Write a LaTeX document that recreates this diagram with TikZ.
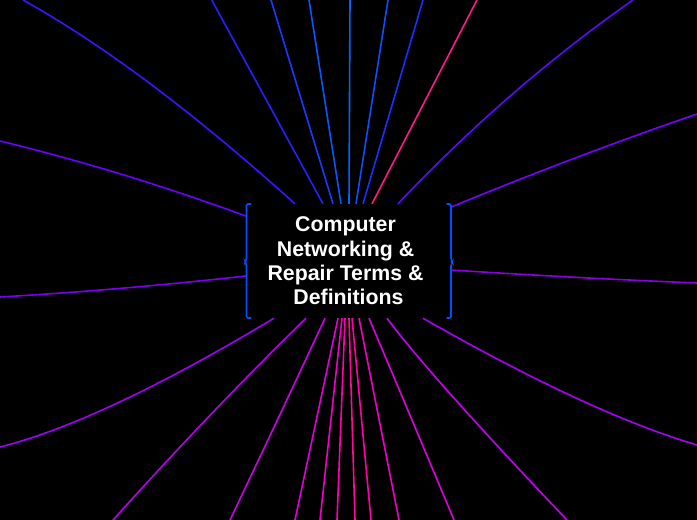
\documentclass[tikz,border=0pt]{standalone}
\usepackage{fontspec}
\setmainfont{Liberation Sans}
\usetikzlibrary{calc}
\definecolor{brk}{HTML}{0050FF}
\definecolor{ca}{HTML}{3814FF}
\definecolor{cb}{HTML}{2222FF}
\definecolor{cc}{HTML}{1A3AFF}
\definecolor{cd}{HTML}{0A55FF}
\definecolor{ce}{HTML}{0064FF}
\definecolor{cf}{HTML}{0F4EFF}
\definecolor{cg}{HTML}{1E2EFF}
\definecolor{ch}{HTML}{FF1A8C}
\definecolor{ci}{HTML}{5A0AFF}
\definecolor{lu}{HTML}{6A00FF}
\definecolor{ru}{HTML}{7800FF}
\definecolor{lm}{HTML}{7A00F0}
\definecolor{rm}{HTML}{8A00E0}
\definecolor{ba}{HTML}{A000F5}
\definecolor{bb}{HTML}{B400EE}
\definecolor{bc}{HTML}{CC00E8}
\definecolor{bd}{HTML}{E000DA}
\definecolor{be}{HTML}{F000C8}
\definecolor{bf}{HTML}{FF00B0}
\definecolor{bg}{HTML}{FF0A98}
\definecolor{bh}{HTML}{FF00A6}
\definecolor{bi}{HTML}{F000C4}
\definecolor{bj}{HTML}{DC00DC}
\definecolor{bk}{HTML}{C400EE}
\definecolor{bl}{HTML}{A800F5}
\begin{document}
\begin{tikzpicture}[x=1pt,y=-1pt,
  conn/.style={line width=1.6pt},
  brack/.style={draw=brk,line width=1.6pt,rounded corners=1.5pt},
  central/.style={inner sep=0pt,minimum width=205pt,minimum height=114pt,
    text=white,align=center,font=\fontsize{21.3}{24.3}\selectfont\bfseries}]
\fill[black] (0,0) rectangle (697,520);
\useasboundingbox (0,0) rectangle (697,520);

\node[central] (c) at (348.5,261)
  {Computer\rule{0.28em}{0pt}\\Networking \&\rule{0.28em}{0pt}\\Repair Terms \&\rule{0.28em}{0pt}\\Definitions};

% start points on the central node
\coordinate (s1) at ([xshift=-53.5pt]c.north);
\coordinate (s9) at ([xshift=49.5pt]c.north);
\coordinate (sl1) at ([yshift=45pt]c.west);
\coordinate (sl2) at ([yshift=-15pt]c.west);
\coordinate (sr1) at ([yshift=54pt]c.east);
\coordinate (sr2) at ([yshift=-9pt]c.east);
\coordinate (sb1) at ([xshift=-74.5pt]c.south);
\coordinate (sb2) at ([xshift=-42.5pt]c.south);
\coordinate (sb3) at ([xshift=-23.5pt]c.south);
\coordinate (sb10) at ([xshift=20.5pt]c.south);
\coordinate (sb11) at ([xshift=38.5pt]c.south);
\coordinate (sb12) at ([xshift=74.5pt]c.south);

% outer ends
\coordinate (t1) at (23,0);
\coordinate (t2) at (211.7,0);
\coordinate (t3) at (271,0);
\coordinate (t4) at (309,0);
\coordinate (t5) at (350,0);
\coordinate (t6) at (388,0);
\coordinate (t7) at (423,0);
\coordinate (t8) at (477,0);
\coordinate (t9) at (633,0);
\coordinate (l1) at (0,141);
\coordinate (l2) at (0,297);
\coordinate (r1) at (697,114);
\coordinate (r2) at (697,283);
\coordinate (b1) at (0,447);
\coordinate (b2) at (113,520);
\coordinate (b3) at (230,520);
\coordinate (b4) at (295,520);
\coordinate (b5) at (320,520);
\coordinate (b6) at (337,520);
\coordinate (b7) at (355,520);
\coordinate (b8) at (371,520);
\coordinate (b9) at (399,520);
\coordinate (b10) at (454,520);
\coordinate (b11) at (567,520);
\coordinate (b12) at (697,445);

% quadratic control points
\coordinate (q1) at (142,66);
\coordinate (q9) at (508,87.5);
\coordinate (ql1) at (120,170);
\coordinate (ql2) at (120,290);
\coordinate (qr1) at (575,156);
\coordinate (qr2) at (575,278);
\coordinate (qb1) at (103,421);
\coordinate (qb2) at (212,410);
\coordinate (qb3) at (280,415);
\coordinate (qb10) at (410,415);
\coordinate (qb11) at (430,376);
\coordinate (qb12) at (589,413);

% top
\draw[conn,draw=ca] (s1) .. controls ($(s1)!0.6667!(q1)$) and ($(t1)!0.6667!(q1)$) .. (t1);
\draw[conn,draw=cb] ([xshift=-25.5pt]c.north) -- (t2);
\draw[conn,draw=cc] ([xshift=-15.5pt]c.north) -- (t3);
\draw[conn,draw=cd] ([xshift=-7.5pt]c.north) -- (t4);
\draw[conn,draw=ce] ([xshift=0.5pt]c.north) -- (t5);
\draw[conn,draw=cf] ([xshift=7.5pt]c.north) -- (t6);
\draw[conn,draw=cg] ([xshift=14.5pt]c.north) -- (t7);
\draw[conn,draw=ch] ([xshift=23.5pt]c.north) -- (t8);
\draw[conn,draw=ci] (s9) .. controls ($(s9)!0.6667!(q9)$) and ($(t9)!0.6667!(q9)$) .. (t9);
% sides
\draw[conn,draw=lu] (sl1) .. controls ($(sl1)!0.6667!(ql1)$) and ($(l1)!0.6667!(ql1)$) .. (l1);
\draw[conn,draw=lm] (sl2) .. controls ($(sl2)!0.6667!(ql2)$) and ($(l2)!0.6667!(ql2)$) .. (l2);
\draw[conn,draw=ru] (sr1) .. controls ($(sr1)!0.6667!(qr1)$) and ($(r1)!0.6667!(qr1)$) .. (r1);
\draw[conn,draw=rm] (sr2) .. controls ($(sr2)!0.6667!(qr2)$) and ($(r2)!0.6667!(qr2)$) .. (r2);
% bottom
\draw[conn,draw=ba] (sb1) .. controls ($(sb1)!0.6667!(qb1)$) and ($(b1)!0.6667!(qb1)$) .. (b1);
\draw[conn,draw=bb] (sb2) .. controls ($(sb2)!0.6667!(qb2)$) and ($(b2)!0.6667!(qb2)$) .. (b2);
\draw[conn,draw=bc] (sb3) .. controls ($(sb3)!0.6667!(qb3)$) and ($(b3)!0.6667!(qb3)$) .. (b3);
\draw[conn,draw=bd] ([xshift=-10.5pt]c.south) -- (b4);
\draw[conn,draw=be] ([xshift=-6.5pt]c.south) -- (b5);
\draw[conn,draw=bf] ([xshift=-3.5pt]c.south) -- (b6);
\draw[conn,draw=bg] ([xshift=0.5pt]c.south) -- (b7);
\draw[conn,draw=bh] ([xshift=3.5pt]c.south) -- (b8);
\draw[conn,draw=bi] ([xshift=10.5pt]c.south) -- (b9);
\draw[conn,draw=bj] (sb10) .. controls ($(sb10)!0.6667!(qb10)$) and ($(b10)!0.6667!(qb10)$) .. (b10);
\draw[conn,draw=bk] (sb11) .. controls ($(sb11)!0.6667!(qb11)$) and ($(b11)!0.6667!(qb11)$) .. (b11);
\draw[conn,draw=bl] (sb12) .. controls ($(sb12)!0.6667!(qb12)$) and ($(b12)!0.6667!(qb12)$) .. (b12);

% brackets
\draw[brack] (251,204) -- (246.5,204) -- (246.5,259.5) -- (245,262) -- (246.5,264.5) -- (246.5,318) -- (251,318);
\draw[brack] (446.5,204) -- (451,204) -- (451,259.5) -- (452.5,262) -- (451,264.5) -- (451,318) -- (446.5,318);
\end{tikzpicture}
\end{document}
